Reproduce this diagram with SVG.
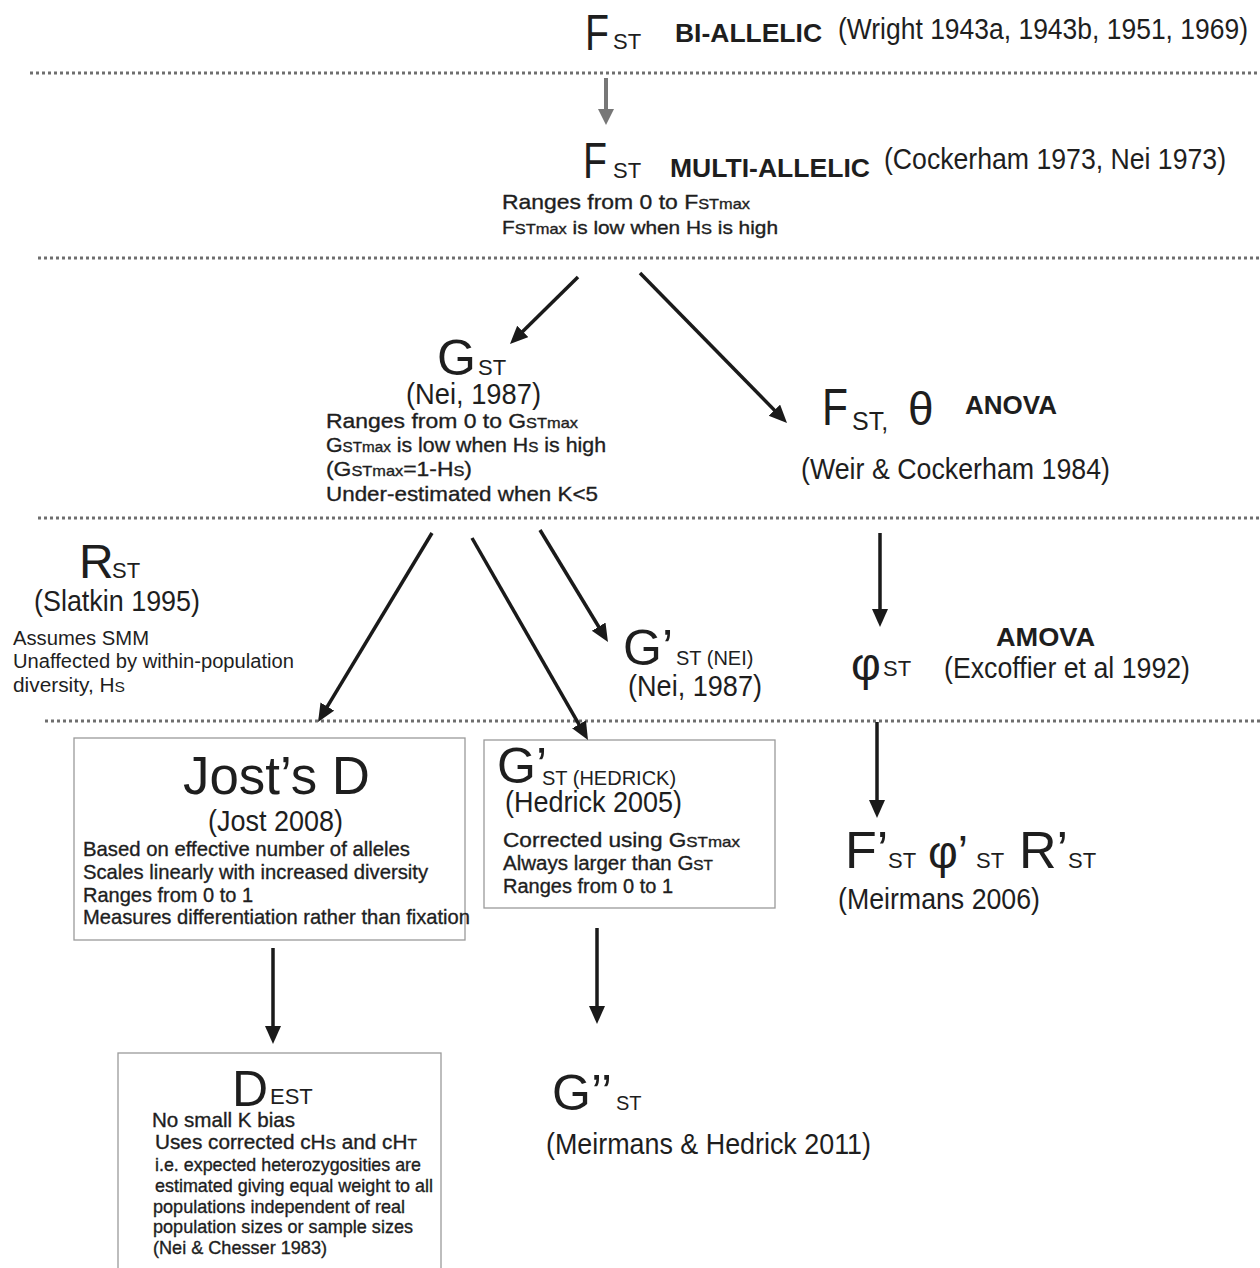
<svg xmlns="http://www.w3.org/2000/svg" width="1260" height="1268" viewBox="0 0 1260 1268">
  <defs>
    <style>
      text { font-family: "Liberation Sans", Arial, sans-serif; fill: #1e1e1e; }
      .big { font-size: 48px; }
      .sub { font-size: 22px; }
      .tag { font-size: 25px; font-weight: bold; }
      .cite { font-size: 29px; }
      .note { font-size: 21px; stroke: #1e1e1e; stroke-width: 0.35; }
      .sc { font-size: 15px; }
      .dots { stroke: #6e6e6e; stroke-width: 3; stroke-dasharray: 3 3; fill: none; }
      .arrow { stroke: #1a1a1a; stroke-width: 3.5; fill: none; marker-end: url(#head); }
      .arrow-grey { stroke: #777; stroke-width: 4; fill: none; marker-end: url(#head-grey); }
      .box { fill: #fff; stroke: #9a9a9a; stroke-width: 1.3; }
    </style>
    <marker id="head" markerUnits="userSpaceOnUse" markerWidth="20" markerHeight="18" refX="8" refY="8" orient="auto">
      <path d="M0,0 L18,8 L0,16 z" fill="#1a1a1a"/>
    </marker>
    <marker id="head-grey" markerUnits="userSpaceOnUse" markerWidth="20" markerHeight="18" refX="6" refY="8" orient="auto">
      <path d="M0,0 L16,8 L0,16 z" fill="#777"/>
    </marker>
  </defs>

  <rect width="1260" height="1268" fill="#fff"/>

  <!-- tier separators -->
  <g id="separators">
    <line class="dots" x1="30" y1="73" x2="1260" y2="73"/>
    <line class="dots" x1="38" y1="258" x2="1260" y2="258"/>
    <line class="dots" x1="38" y1="518" x2="1260" y2="518"/>
    <line class="dots" x1="45" y1="721" x2="1260" y2="721"/>
  </g>

  <!-- boxes behind text -->
  <rect id="box-jost" class="box" x="74" y="738" width="391" height="202"/>
  <rect id="box-hedrick" class="box" x="484" y="740" width="291" height="168"/>
  <rect id="box-dest" class="box" x="118" y="1053" width="323" height="222"/>

  <!-- connectors -->
  <g id="connectors">
    <line class="arrow-grey" x1="606" y1="78" x2="606" y2="115"/>
    <line class="arrow" x1="578" y1="277" x2="517.1" y2="337"/>
    <line class="arrow" x1="640" y1="273" x2="780" y2="415.9"/>
    <line class="arrow" x1="432" y1="533" x2="323.2" y2="713.4"/>
    <line class="arrow" x1="472" y1="538" x2="583" y2="731.3"/>
    <line class="arrow" x1="540" y1="530" x2="602.8" y2="633.5"/>
    <line class="arrow" x1="880" y1="533" x2="880" y2="617"/>
    <line class="arrow" x1="877" y1="722" x2="877" y2="808"/>
    <line class="arrow" x1="273" y1="948" x2="273" y2="1034"/>
    <line class="arrow" x1="597" y1="928" x2="597" y2="1014"/>
  </g>

  <!-- F_ST bi-allelic -->
  <g id="fst-biallelic">
    <text x="585" y="50" class="big" style="font-size:50px" textLength="24" lengthAdjust="spacingAndGlyphs">F</text>
    <text x="613" y="49" class="sub">ST</text>
    <text x="675" y="42" class="tag" textLength="147" lengthAdjust="spacingAndGlyphs">BI-ALLELIC</text>
    <text x="838" y="39" class="cite" textLength="410" lengthAdjust="spacingAndGlyphs">(Wright 1943a, 1943b, 1951, 1969)</text>
  </g>

  <!-- F_ST multi-allelic -->
  <g id="fst-multiallelic">
    <text x="583" y="178" class="big" style="font-size:50px" textLength="24" lengthAdjust="spacingAndGlyphs">F</text>
    <text x="613" y="178" class="sub">ST</text>
    <text x="670" y="177" class="tag" textLength="200" lengthAdjust="spacingAndGlyphs">MULTI-ALLELIC</text>
    <text x="884" y="169" class="cite" textLength="342" lengthAdjust="spacingAndGlyphs">(Cockerham 1973, Nei 1973)</text>
    <text x="502" y="209" class="note" textLength="248" lengthAdjust="spacingAndGlyphs">Ranges from 0 to F<tspan class="sc">STmax</tspan></text>
    <text x="502" y="234" class="note" style="font-size:19px" textLength="276" lengthAdjust="spacingAndGlyphs">F<tspan class="sc">STmax</tspan> is low when H<tspan class="sc">S</tspan> is high</text>
  </g>

  <!-- G_ST -->
  <g id="gst">
    <text x="437" y="375" class="big" style="font-size:50px">G</text>
    <text x="478" y="375" class="sub">ST</text>
    <text x="406" y="404" class="cite" textLength="135" lengthAdjust="spacingAndGlyphs">(Nei, 1987)</text>
    <text x="326" y="428" class="note" textLength="252" lengthAdjust="spacingAndGlyphs">Ranges from 0 to G<tspan class="sc">STmax</tspan></text>
    <text x="326" y="452" class="note" textLength="280" lengthAdjust="spacingAndGlyphs">G<tspan class="sc">STmax</tspan> is low when H<tspan class="sc">S</tspan> is high</text>
    <text x="326" y="476" class="note" textLength="146" lengthAdjust="spacingAndGlyphs">(G<tspan class="sc">STmax</tspan>=1-H<tspan class="sc">S</tspan>)</text>
    <text x="326" y="501" class="note" textLength="272" lengthAdjust="spacingAndGlyphs">Under-estimated when K&lt;5</text>
  </g>

  <!-- F_ST, theta (ANOVA) -->
  <g id="fst-anova">
    <text x="822" y="425" class="big" style="font-size:52px" textLength="26" lengthAdjust="spacingAndGlyphs">F</text>
    <text x="852" y="430" class="sub" style="font-size:25px">ST,</text>
    <text x="908" y="425" class="big" style="font-size:46px">θ</text>
    <text x="965" y="414" class="tag" textLength="92" lengthAdjust="spacingAndGlyphs">ANOVA</text>
    <text x="801" y="479" class="cite" textLength="309" lengthAdjust="spacingAndGlyphs">(Weir &amp; Cockerham 1984)</text>
  </g>

  <!-- R_ST -->
  <g id="rst">
    <text x="79" y="578" class="big">R</text>
    <text x="112" y="578" class="sub">ST</text>
    <text x="34" y="611" class="cite" textLength="166" lengthAdjust="spacingAndGlyphs">(Slatkin 1995)</text>
    <text x="13" y="645" style="font-size:20px" textLength="136" lengthAdjust="spacingAndGlyphs">Assumes SMM</text>
    <text x="13" y="668" style="font-size:20px" textLength="281" lengthAdjust="spacingAndGlyphs">Unaffected by within-population</text>
    <text x="13" y="692" style="font-size:20px" textLength="112" lengthAdjust="spacingAndGlyphs">diversity, H<tspan class="sc">S</tspan></text>
  </g>

  <!-- G'_ST (Nei) -->
  <g id="gst-nei">
    <text x="623" y="665" class="big" style="font-size:50px">G’</text>
    <text x="676" y="665" class="sub" style="font-size:20px">ST (NEI)</text>
    <text x="628" y="696" class="cite" textLength="134" lengthAdjust="spacingAndGlyphs">(Nei, 1987)</text>
  </g>

  <!-- phi_ST (AMOVA) -->
  <g id="phist">
    <text x="851" y="680" class="big" style="font-size:46px">φ</text>
    <text x="883" y="676" class="sub">ST</text>
    <text x="996" y="646" class="tag" textLength="99" lengthAdjust="spacingAndGlyphs">AMOVA</text>
    <text x="944" y="678" class="cite" textLength="246" lengthAdjust="spacingAndGlyphs">(Excoffier et al 1992)</text>
  </g>

  <!-- Jost's D -->
  <g id="jost-d">
    <text x="183" y="794" class="big" style="font-size:54px" textLength="187" lengthAdjust="spacingAndGlyphs">Jost’s D</text>
    <text x="208" y="831" class="cite" textLength="135" lengthAdjust="spacingAndGlyphs">(Jost 2008)</text>
    <text x="83" y="856" class="note" textLength="327" lengthAdjust="spacingAndGlyphs">Based on effective number of alleles</text>
    <text x="83" y="879" class="note" textLength="345" lengthAdjust="spacingAndGlyphs">Scales linearly with increased diversity</text>
    <text x="83" y="902" class="note" textLength="170" lengthAdjust="spacingAndGlyphs">Ranges from 0 to 1</text>
    <text x="83" y="924" class="note" textLength="387" lengthAdjust="spacingAndGlyphs">Measures differentiation rather than fixation</text>
  </g>

  <!-- G'_ST (Hedrick) -->
  <g id="gst-hedrick">
    <text x="497" y="783" class="big" style="font-size:50px">G’</text>
    <text x="542" y="785" class="sub" style="font-size:20px">ST (HEDRICK)</text>
    <text x="505" y="812" class="cite" textLength="177" lengthAdjust="spacingAndGlyphs">(Hedrick 2005)</text>
    <text x="503" y="847" class="note" style="font-size:20px" textLength="237" lengthAdjust="spacingAndGlyphs">Corrected using G<tspan class="sc">STmax</tspan></text>
    <text x="503" y="870" class="note" style="font-size:20px" textLength="210" lengthAdjust="spacingAndGlyphs">Always larger than G<tspan class="sc">ST</tspan></text>
    <text x="503" y="893" class="note" style="font-size:20px" textLength="170" lengthAdjust="spacingAndGlyphs">Ranges from 0 to 1</text>
  </g>

  <!-- F'_ST phi'_ST R'_ST -->
  <g id="meirmans-2006">
    <text x="845" y="868" class="big" style="font-size:52px">F’</text>
    <text x="888" y="868" class="sub">ST</text>
    <text x="928" y="868" class="big" style="font-size:46px">φ’</text>
    <text x="976" y="868" class="sub">ST</text>
    <text x="1019" y="868" class="big" style="font-size:52px">R’</text>
    <text x="1068" y="868" class="sub">ST</text>
    <text x="838" y="909" class="cite" textLength="202" lengthAdjust="spacingAndGlyphs">(Meirmans 2006)</text>
  </g>

  <!-- D_EST -->
  <g id="dest">
    <text x="232" y="1106" class="big" style="font-size:50px">D</text>
    <text x="270" y="1104" class="sub">EST</text>
    <text x="152" y="1127" class="note" textLength="143" lengthAdjust="spacingAndGlyphs">No small K bias</text>
    <text x="155" y="1149" class="note" style="font-size:20px" textLength="262" lengthAdjust="spacingAndGlyphs">Uses corrected cH<tspan class="sc">S</tspan> and cH<tspan class="sc">T</tspan></text>
    <text x="155" y="1171" class="note" style="font-size:19px" textLength="266" lengthAdjust="spacingAndGlyphs">i.e. expected heterozygosities are</text>
    <text x="155" y="1192" class="note" style="font-size:19px" textLength="278" lengthAdjust="spacingAndGlyphs">estimated giving equal weight to all</text>
    <text x="153" y="1213" class="note" style="font-size:19px" textLength="252" lengthAdjust="spacingAndGlyphs">populations independent of real</text>
    <text x="153" y="1233" class="note" style="font-size:19px" textLength="260" lengthAdjust="spacingAndGlyphs">population sizes or sample sizes</text>
    <text x="153" y="1254" class="note" style="font-size:19px" textLength="174" lengthAdjust="spacingAndGlyphs">(Nei &amp; Chesser 1983)</text>
  </g>

  <!-- G''_ST -->
  <g id="gst-meirmans-hedrick">
    <text x="552" y="1110" class="big" style="font-size:50px">G’’</text>
    <text x="616" y="1110" class="sub" style="font-size:20px">ST</text>
    <text x="546" y="1154" class="cite" textLength="325" lengthAdjust="spacingAndGlyphs">(Meirmans &amp; Hedrick 2011)</text>
  </g>
</svg>
